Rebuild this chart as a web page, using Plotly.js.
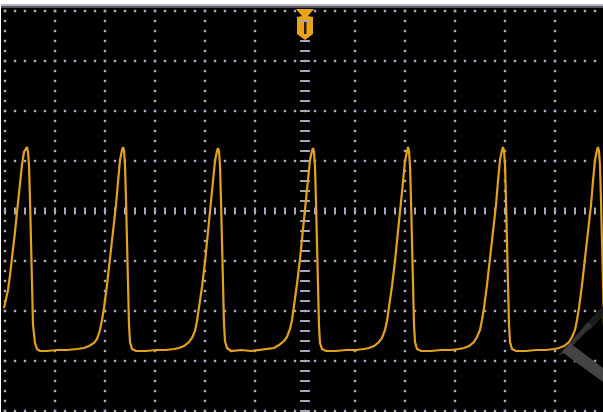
<!DOCTYPE html>
<html>
<head>
<meta charset="utf-8">
<script src="https://cdn.plot.ly/plotly-3.0.1.min.js"></script>
<style>html,body{margin:0;padding:0;background:#fff;}#chart{width:603px;height:412px;}</style>
</head>
<body>
<div id="chart"></div>
<script>
// Oscilloscope capture: 50 µs/div horizontally, 50 mV/div vertically
var time_us = [
  -1,1,3,5,7,10,12,15,17,19,21,22,23,24,25,26,27,28,30,32,35,
  42,52,62,72,79,
  84,89,92,95,97,99,102,105,108,111,113,115,117,118,119,120,121,122,123,124,125,127,131,
  141,151,161,169,174,
  179,184,187,190,192,194,197,200,203,206,208,210,212,213,214,215,216,217,218,219,220,222,226,
  236,246,256,264,269,
  274,279,282,285,287,289,292,295,298,301,303,305,307,308,309,310,311,312,313,314,315,317,321,
  331,341,351,359,364,
  369,374,377,380,382,384,387,390,393,396,398,400,402,403,404,405,406,407,408,409,410,412,416,
  426,436,446,454,459,
  464,469,472,475,477,479,482,485,488,491,493,495,497,498,499,500,501,502,503,504,505,507,511,
  521,531,541,549,554,
  559,564,567,570,572,574,577,580,583,586,588,590,592,593,594,595,596,597,598,599
];
var volts_mV = [
  -97,-88,-79,-64,-49,-21,-1,29,46,59,63,64,59,46,11,-34,-79,-114,-132,-138,-140,
  -140,-139,-139,-138,-137,
  -135,-132,-128,-119,-109,-97,-74,-49,-21,6,29,51,61,64,61,46,11,-34,-79,-114,-131,-138,-140,
  -140,-139,-139,-138,-137,
  -135,-131,-127,-120,-110,-98,-76,-51,-22,5,30,50,60,63,60,45,10,-33,-78,-113,-130,-137,-140,
  -139,-140,-139,-138,-137,
  -134,-130,-126,-118,-109,-96,-73,-48,-20,7,31,51,60,63,59,44,9,-35,-80,-115,-132,-138,-140,
  -140,-139,-139,-138,-137,
  -135,-131,-127,-119,-110,-97,-75,-50,-22,5,29,50,61,64,60,45,11,-34,-79,-114,-131,-138,-140,
  -140,-139,-139,-138,-137,
  -135,-131,-126,-119,-109,-97,-74,-49,-21,6,30,51,61,64,60,46,10,-35,-80,-114,-131,-138,-140,
  -140,-139,-139,-138,-137,
  -135,-131,-126,-119,-109,-97,-74,-49,-21,6,30,51,61,64,60,45,11,-34,-79,-114
];
var xDivLines = [0,50,100,150,200,250,350,400,450,500,550];
var yDivLines = [-200,-150,-100,-50,50,100,150,200];
var centerT = 300, centerV = 0;

var gridColor = '#a8a8c0';
// dotted graticule
var gx = [], gy = [];
yDivLines.forEach(function(v){ for (var t = 0; t <= 590; t += 10) { gx.push(t); gy.push(v); } });
xDivLines.forEach(function(t){ for (var v = -200; v <= 200; v += 10) { gx.push(t); gy.push(v); } });
var cxT = [], cxV = [];
for (var t = 0; t <= 590; t += 10) { cxT.push(t); cxV.push(centerV); }
var cyT = [], cyV = [];
for (var v = -200; v <= 170; v += 10) { cyT.push(centerT); cyV.push(v); }

var traces = [
  {x: gx, y: gy, type: 'scatter', mode: 'markers', hoverinfo: 'skip',
   marker: {symbol: 'square', size: 2.4, color: gridColor, line: {width: 0}}},
  {x: cxT, y: cxV, type: 'scatter', mode: 'markers', hoverinfo: 'skip',
   marker: {symbol: 'line-ns', size: 5, line: {width: 2, color: gridColor}}},
  {x: cyT, y: cyV, type: 'scatter', mode: 'markers', hoverinfo: 'skip',
   marker: {symbol: 'line-ew', size: 7, line: {width: 2, color: gridColor}}},
  {x: time_us, y: volts_mV, type: 'scatter', mode: 'lines', hoverinfo: 'skip',
   line: {color: '#e4a11b', width: 2.2}}
];

// decoration helpers (screen pixel -> axis units)
function T(px){ return px - 5; }
function V(py){ return 211 - py; }
function path(pts){
  return 'M' + pts.map(function(p){ return T(p[0]) + ',' + V(p[1]); }).join(' L') + ' Z';
}

var shapes = [
  {type: 'rect', xref: 'x', yref: 'y', x0: -10, x1: 610, y0: V(4), y1: V(6), fillcolor: '#b8b8c0', line: {width: 0}, layer: 'above'},
  {type: 'rect', xref: 'x', yref: 'y', x0: -10, x1: 610, y0: V(6), y1: V(8), fillcolor: '#55555e', line: {width: 0}, layer: 'above'},
  // trigger marker
  {type: 'path', xref: 'x', yref: 'y', layer: 'above', fillcolor: '#e8a317', line: {width: 0},
   path: path([[296,9],[314,9],[308,16],[313,17],[313,34],[305,40],[297,34],[297,17],[302,16]])},
  {type: 'path', xref: 'x', yref: 'y', layer: 'above', fillcolor: '#a8a8a8', line: {width: 0},
   path: path([[300,20],[310,20],[310,22],[300,22]])},
  {type: 'path', xref: 'x', yref: 'y', layer: 'above', fillcolor: '#2a1e00', line: {width: 0},
   path: path([[304,22],[306.5,22],[306.5,34],[304,34]])},
  // corner overlay glyph
  {type: 'path', xref: 'x', yref: 'y', layer: 'above', fillcolor: '#1c1c1c', line: {width: 0},
   path: path([[584,326],[603,306],[603,316],[590,330]])},
  {type: 'path', xref: 'x', yref: 'y', layer: 'above', fillcolor: '#333333', line: {width: 0},
   path: path([[558,356],[588,322],[592,326],[566,352]])},
  {type: 'path', xref: 'x', yref: 'y', layer: 'above', fillcolor: '#444444', line: {width: 0},
   path: path([[562,352],[570,343],[603,368],[603,382]])}
];

var layout = {
  width: 603, height: 412,
  margin: {l: 1, r: 0, t: 4, b: 0, pad: 0},
  paper_bgcolor: '#ffffff', plot_bgcolor: '#000000',
  showlegend: false,
  xaxis: {range: [-4, 598], showgrid: false, zeroline: false, showticklabels: false, ticks: '', showline: false, fixedrange: true},
  yaxis: {range: [-201, 207], showgrid: false, zeroline: false, showticklabels: false, ticks: '', showline: false, fixedrange: true},
  shapes: shapes
};

Plotly.newPlot('chart', traces, layout, {staticPlot: true, displayModeBar: false});
</script>
</body>
</html>
